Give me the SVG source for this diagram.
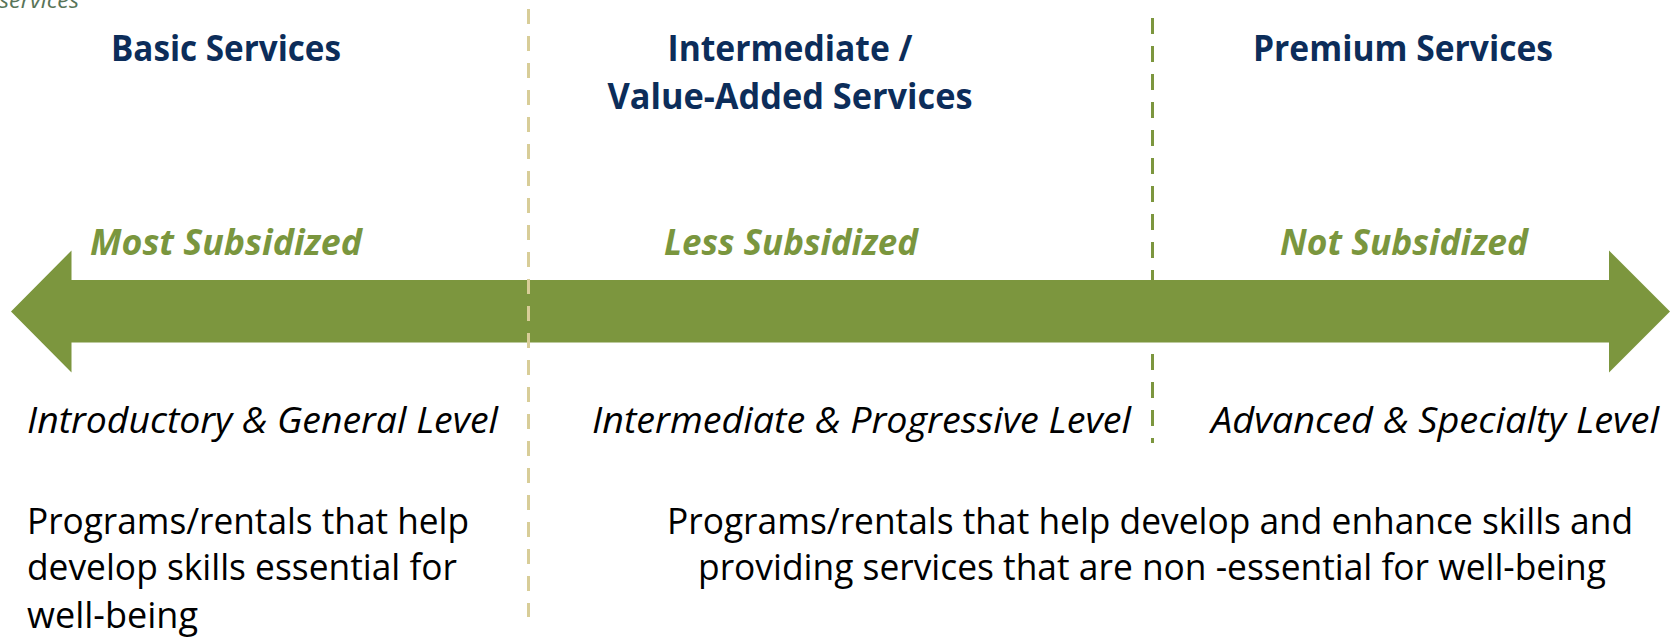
<svg xmlns="http://www.w3.org/2000/svg" width="1673" height="640" viewBox="0 0 1673 640">
<style>
.t{font-family:"Open Sans","Liberation Sans",sans-serif}
.hd{font-weight:700;font-size:36px;fill:#0c2d5a;text-anchor:middle}
.sub{font-weight:700;font-style:italic;font-size:35px;fill:#7a963e;text-anchor:middle}
.lvl{font-style:italic;font-size:36px;fill:#000}
.body{font-size:36px;fill:#000}
.cap{font-style:italic;font-size:22px;fill:#587458}
.dl{fill:none;stroke-width:3}
</style>
<rect width="1673" height="640" fill="#fff"/>
<g id="caption"><text class="t cap" x="-1" y="8" textLength="80" lengthAdjust="spacingAndGlyphs">services</text></g>
<g id="arrow"><path d="M11 311.5 L71.5 250.5 L71.5 280 L1609 280 L1609 250.5 L1670 311.5 L1609 372.5 L1609 342.5 L71.5 342.5 L71.5 372.5 Z" fill="#7c963e"/></g>
<g id="connectors">
<line class="dl" x1="528.5" y1="9" x2="528.5" y2="617" stroke="#d8cd98" stroke-dasharray="15 12"/>
<line class="dl" x1="1152.5" y1="18" x2="1152.5" y2="443" stroke="#7c963e" stroke-dasharray="16 12"/>
</g>
<g id="basic">
<text class="t hd" x="226" y="61" textLength="230" lengthAdjust="spacingAndGlyphs">Basic Services</text>
<text class="t sub" x="226" y="255" textLength="272" lengthAdjust="spacingAndGlyphs">Most Subsidized</text>
<text class="t lvl" x="27" y="433" textLength="471" lengthAdjust="spacingAndGlyphs">Introductory &amp; General Level</text>
<text class="t body" x="27" y="534" textLength="442" lengthAdjust="spacingAndGlyphs">Programs/rentals that help</text>
<text class="t body" x="27" y="580" textLength="430" lengthAdjust="spacingAndGlyphs">develop skills essential for</text>
<text class="t body" x="27" y="628" textLength="171" lengthAdjust="spacingAndGlyphs">well-being</text>
</g>
<g id="intermediate">
<text class="t hd" x="790" y="61" textLength="245" lengthAdjust="spacingAndGlyphs">Intermediate /</text>
<text class="t hd" x="790" y="109" textLength="365" lengthAdjust="spacingAndGlyphs">Value-Added Services</text>
<text class="t sub" x="791" y="255" textLength="254" lengthAdjust="spacingAndGlyphs">Less Subsidized</text>
<text class="t lvl" x="592" y="433" textLength="539" lengthAdjust="spacingAndGlyphs">Intermediate &amp; Progressive Level</text>
</g>
<g id="premium">
<text class="t hd" x="1403" y="61" textLength="300" lengthAdjust="spacingAndGlyphs">Premium Services</text>
<text class="t sub" x="1404" y="255" textLength="248" lengthAdjust="spacingAndGlyphs">Not Subsidized</text>
<text class="t lvl" x="1211" y="433" textLength="448" lengthAdjust="spacingAndGlyphs">Advanced &amp; Specialty Level</text>
</g>
<g id="nonessential">
<text class="t body" x="667" y="534" textLength="966" lengthAdjust="spacingAndGlyphs">Programs/rentals that help develop and enhance skills and</text>
<text class="t body" x="698" y="580" textLength="908" lengthAdjust="spacingAndGlyphs">providing services that are non -essential for well-being</text>
</g>
</svg>
